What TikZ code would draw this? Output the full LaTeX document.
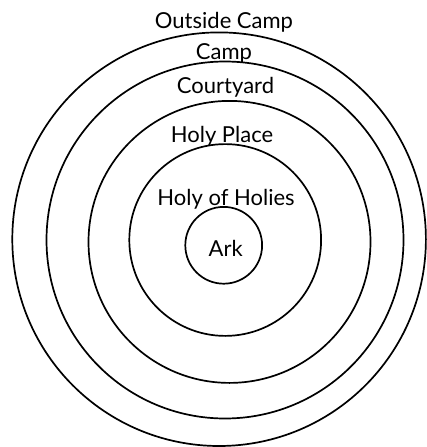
\documentclass[tikz,border=0pt]{standalone}
\usepackage{fontspec}
\setmainfont{Lato}
\begin{document}
\begin{tikzpicture}[x=1pt, y=-1pt,
    ring/.style={line width=1.7pt},
    ringtext/.style={font=\fontsize{22}{25}\selectfont, anchor=base, inner sep=0pt}]
    \useasboundingbox (0,0) rectangle (426,447);

    % Draw the rings, outermost first
    \draw[ring] (219.1,239.2) circle (206.8pt);
    \draw[ring] (225.0,240.0) circle (178.5pt);
    \draw[ring] (229.5,241.9) circle (141.0pt);
    \draw[ring] (225.2,240.0) circle (95.9pt);
    \draw[ring] (223.7,245.3) circle (38.4pt);

    % Label each ring
    \node[ringtext] (outside) at (224,28.3) {Outside Camp};
    \node[ringtext] (camp) at (224,59.3) {Camp};
    \node[ringtext] (court) at (225.5,93.3) {Courtyard};
    \node[ringtext] (holy) at (222,142.7) {Holy Place};
    \node[ringtext] (holies) at (226,205.7) {Holy of Holies};
    \node[ringtext] (ark) at (225.7,256) {Ark};
\end{tikzpicture}
\end{document}
